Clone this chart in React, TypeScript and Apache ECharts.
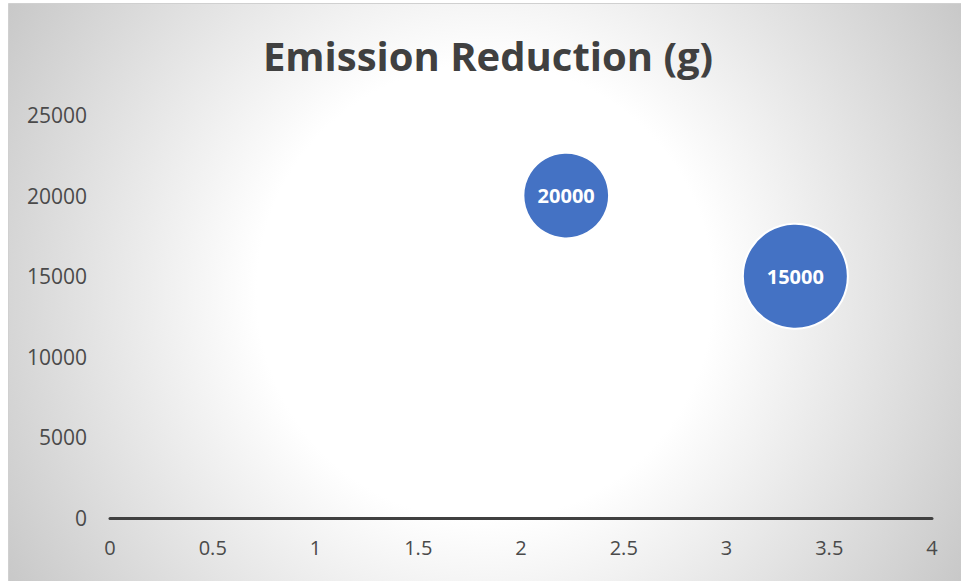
import React, { useEffect, useRef } from "react";
import * as echarts from "echarts";

const titleText = "Emission Reduction (g)";
const xValues = [2.22, 3.335];
const yValues = [20000, 15000];
const bubbleSizes = [2, 3];
const xTicks = { min: 0, max: 4, interval: 0.5 };
const yTicks = { min: 0, max: 25000, interval: 5000 };

export default function App() {
  const ref = useRef<HTMLDivElement>(null);
  useEffect(() => {
    if (!ref.current) return;
    const chart = echarts.init(ref.current, null, { renderer: "svg" });
    const maxSize = Math.max(...bubbleSizes);
    const data = xValues.map((x, i) => [x, yValues[i], bubbleSizes[i]]);
    chart.setOption({
      animation: false,
      graphic: [
        {
          type: "rect",
          z: -10,
          silent: true,
          shape: { x: 8.5, y: 3.5, width: 970, height: 590 },
          style: {
            fill: new echarts.graphic.RadialGradient(
              485,
              292,
              570,
              [
                { offset: 0, color: "#ffffff" },
                { offset: 0.4, color: "#ffffff" },
                { offset: 1, color: "#c6c6c6" },
              ],
              true
            ),
            stroke: "#d0d0d0",
            lineWidth: 1,
          },
        },
      ],
      title: {
        text: titleText,
        left: 483,
        textAlign: "center",
        top: 30,
        textStyle: {
          fontFamily: "Open Sans",
          fontWeight: "bold",
          fontSize: 40,
          color: "#404040",
        },
      },
      grid: { left: 110, right: 29, top: 115, bottom: 63, containLabel: false },
      xAxis: {
        type: "value",
        min: xTicks.min,
        max: xTicks.max,
        interval: xTicks.interval,
        axisLine: { show: true, onZero: true, lineStyle: { color: "#404040", width: 3 } },
        axisTick: { show: false },
        splitLine: { show: false },
        axisLabel: {
          fontFamily: "Open Sans",
          fontSize: 20,
          color: "#4a4a4a",
          margin: 19,
          showMinLabel: true,
          showMaxLabel: true,
          formatter: (v: number) => String(v),
        },
      },
      yAxis: {
        type: "value",
        min: yTicks.min,
        max: yTicks.max,
        interval: yTicks.interval,
        axisLine: { show: false },
        axisTick: { show: false },
        splitLine: { show: false },
        axisLabel: {
          fontFamily: "Open Sans",
          fontSize: 21,
          color: "#4a4a4a",
          margin: 23,
          formatter: (v: number) => String(v),
        },
      },
      series: [
        {
          type: "scatter",
          data,
          symbol: "circle",
          symbolSize: (d: number[]) => 105 * Math.sqrt(d[2] / maxSize),
          itemStyle: { color: "#4472C4", borderColor: "#ffffff", borderWidth: 2, opacity: 1 },
          label: {
            show: true,
            position: "inside",
            formatter: (p: any) => String(p.value[1]),
            fontFamily: "Open Sans",
            fontWeight: "bold",
            fontSize: 20,
            color: "#ffffff",
          },
        },
      ],
    });
    return () => chart.dispose();
  }, []);
  return (
    <div
      ref={ref}
      style={{ position: "absolute", left: 0, top: 0, width: 961, height: 581 }}
    />
  );
}
